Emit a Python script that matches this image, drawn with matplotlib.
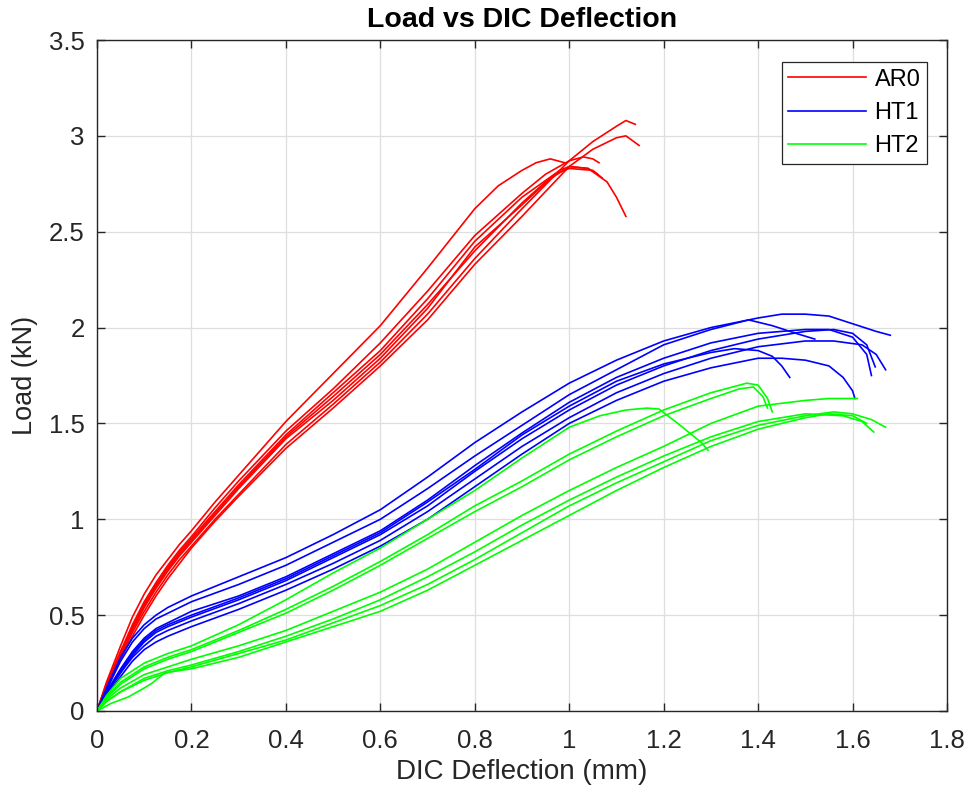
import matplotlib
matplotlib.use("Agg")
import matplotlib.pyplot as plt
from matplotlib.ticker import FuncFormatter

plt.rcParams['font.family'] = ['Liberation Sans', 'DejaVu Sans']

# ---- AR0 specimens: deflection (mm), load (kN) ----
ar0_x1 = [0, 0.02, 0.05, 0.075, 0.1, 0.125, 0.15, 0.175, 0.2, 0.25, 0.3, 0.4, 0.5, 0.6, 0.7, 0.8, 0.85, 0.9, 0.93, 0.96, 0.99]
ar0_y1 = [0, 0.15, 0.34, 0.49, 0.61, 0.71, 0.79, 0.87, 0.94, 1.09, 1.23, 1.51, 1.76, 2.01, 2.31, 2.62, 2.74, 2.82, 2.86, 2.88, 2.86]
ar0_x2 = [0, 0.02, 0.05, 0.075, 0.1, 0.125, 0.15, 0.175, 0.2, 0.25, 0.3, 0.4, 0.5, 0.6, 0.7, 0.8, 0.9, 1.0, 1.05, 1.1, 1.12, 1.14]
ar0_y2 = [0, 0.12, 0.28, 0.41, 0.52, 0.62, 0.71, 0.79, 0.86, 1.00, 1.13, 1.39, 1.60, 1.82, 2.07, 2.36, 2.62, 2.87, 2.97, 3.05, 3.08, 3.06]
ar0_x3 = [0, 0.02, 0.05, 0.075, 0.1, 0.125, 0.15, 0.175, 0.2, 0.25, 0.3, 0.4, 0.5, 0.6, 0.7, 0.8, 0.9, 1.0, 1.05, 1.1, 1.12, 1.148]
ar0_y3 = [0, 0.11, 0.27, 0.39, 0.50, 0.60, 0.69, 0.77, 0.85, 0.99, 1.12, 1.37, 1.58, 1.80, 2.04, 2.33, 2.58, 2.84, 2.93, 2.99, 3.00, 2.95]
ar0_x4 = [0, 0.02, 0.05, 0.075, 0.1, 0.125, 0.15, 0.175, 0.2, 0.25, 0.3, 0.4, 0.5, 0.6, 0.7, 0.8, 0.9, 0.95, 1.0, 1.03, 1.05, 1.063]
ar0_y4 = [0, 0.14, 0.31, 0.45, 0.57, 0.67, 0.76, 0.84, 0.91, 1.06, 1.20, 1.46, 1.68, 1.92, 2.19, 2.48, 2.70, 2.80, 2.87, 2.89, 2.88, 2.86]
ar0_x5 = [0, 0.02, 0.05, 0.075, 0.1, 0.125, 0.15, 0.175, 0.2, 0.25, 0.3, 0.4, 0.5, 0.6, 0.7, 0.8, 0.9, 0.95, 1.0, 1.04, 1.08, 1.1, 1.12]
ar0_y5 = [0, 0.13, 0.30, 0.43, 0.55, 0.65, 0.74, 0.82, 0.89, 1.03, 1.17, 1.43, 1.64, 1.86, 2.12, 2.40, 2.65, 2.76, 2.84, 2.83, 2.76, 2.68, 2.58]
ar0_x6 = [0, 0.02, 0.05, 0.075, 0.1, 0.125, 0.15, 0.175, 0.2, 0.25, 0.3, 0.4, 0.5, 0.6, 0.7, 0.8, 0.9, 0.97, 1.0, 1.05, 1.07]
ar0_y6 = [0, 0.13, 0.29, 0.42, 0.54, 0.64, 0.73, 0.81, 0.88, 1.02, 1.16, 1.42, 1.62, 1.84, 2.10, 2.42, 2.64, 2.80, 2.83, 2.82, 2.78]
ar0_x7 = [0, 0.02, 0.05, 0.075, 0.1, 0.125, 0.15, 0.175, 0.2, 0.25, 0.3, 0.4, 0.5, 0.6, 0.7, 0.8, 0.9, 0.98, 1.0, 1.04, 1.06]
ar0_y7 = [0, 0.14, 0.31, 0.44, 0.56, 0.66, 0.75, 0.83, 0.90, 1.04, 1.18, 1.44, 1.66, 1.88, 2.15, 2.45, 2.68, 2.82, 2.84, 2.83, 2.80]

# ---- HT1 specimens ----
ht1_x1 = [0, 0.02, 0.05, 0.075, 0.1, 0.125, 0.15, 0.2, 0.3, 0.4, 0.5, 0.6, 0.7, 0.8, 0.9, 1.0, 1.1, 1.2, 1.3, 1.4, 1.45, 1.5, 1.55, 1.6, 1.65, 1.68]
ht1_y1 = [0, 0.12, 0.28, 0.38, 0.45, 0.50, 0.54, 0.60, 0.70, 0.80, 0.92, 1.05, 1.22, 1.40, 1.56, 1.71, 1.83, 1.93, 2.00, 2.05, 2.07, 2.07, 2.06, 2.02, 1.98, 1.96]
ht1_x2 = [0, 0.02, 0.05, 0.075, 0.1, 0.125, 0.15, 0.2, 0.3, 0.4, 0.5, 0.6, 0.7, 0.8, 0.9, 1.0, 1.1, 1.2, 1.3, 1.38, 1.43, 1.48, 1.52]
ht1_y2 = [0, 0.11, 0.26, 0.36, 0.43, 0.48, 0.51, 0.57, 0.66, 0.76, 0.88, 1.00, 1.16, 1.33, 1.49, 1.65, 1.78, 1.91, 1.99, 2.04, 2.01, 1.97, 1.94]
ht1_x3 = [0, 0.02, 0.05, 0.075, 0.1, 0.125, 0.15, 0.2, 0.3, 0.4, 0.5, 0.6, 0.7, 0.8, 0.9, 1.0, 1.1, 1.2, 1.3, 1.4, 1.5, 1.55, 1.6, 1.63, 1.64]
ht1_y3 = [0, 0.10, 0.22, 0.31, 0.38, 0.43, 0.46, 0.52, 0.60, 0.70, 0.82, 0.94, 1.10, 1.28, 1.45, 1.61, 1.74, 1.84, 1.92, 1.97, 1.99, 1.99, 1.95, 1.86, 1.75]
ht1_x4 = [0, 0.02, 0.05, 0.075, 0.1, 0.125, 0.15, 0.2, 0.3, 0.4, 0.5, 0.6, 0.7, 0.8, 0.9, 1.0, 1.1, 1.2, 1.3, 1.4, 1.5, 1.56, 1.6, 1.63, 1.648]
ht1_y4 = [0, 0.09, 0.20, 0.29, 0.36, 0.41, 0.44, 0.49, 0.58, 0.68, 0.80, 0.92, 1.07, 1.25, 1.42, 1.57, 1.70, 1.80, 1.88, 1.94, 1.98, 1.99, 1.97, 1.91, 1.795]
ht1_x5 = [0, 0.02, 0.05, 0.075, 0.1, 0.125, 0.15, 0.2, 0.3, 0.4, 0.5, 0.6, 0.7, 0.8, 0.9, 1.0, 1.1, 1.2, 1.3, 1.4, 1.5, 1.56, 1.62, 1.65, 1.67]
ht1_y5 = [0, 0.09, 0.20, 0.28, 0.34, 0.39, 0.42, 0.47, 0.56, 0.66, 0.77, 0.89, 1.04, 1.21, 1.38, 1.53, 1.66, 1.76, 1.84, 1.90, 1.93, 1.93, 1.91, 1.86, 1.78]
ht1_x6 = [0, 0.02, 0.05, 0.075, 0.1, 0.125, 0.15, 0.2, 0.3, 0.4, 0.5, 0.6, 0.7, 0.8, 0.9, 1.0, 1.1, 1.2, 1.3, 1.35, 1.4, 1.43, 1.45, 1.467]
ht1_y6 = [0, 0.10, 0.21, 0.30, 0.37, 0.42, 0.45, 0.50, 0.59, 0.69, 0.81, 0.93, 1.09, 1.26, 1.44, 1.59, 1.72, 1.81, 1.87, 1.89, 1.88, 1.85, 1.80, 1.74]
ht1_x7 = [0, 0.02, 0.05, 0.075, 0.1, 0.125, 0.15, 0.2, 0.3, 0.4, 0.5, 0.6, 0.7, 0.8, 0.9, 1.0, 1.1, 1.2, 1.3, 1.4, 1.45, 1.5, 1.55, 1.58, 1.6, 1.605]
ht1_y7 = [0, 0.08, 0.18, 0.26, 0.32, 0.36, 0.39, 0.44, 0.53, 0.63, 0.74, 0.86, 1.00, 1.17, 1.34, 1.50, 1.62, 1.72, 1.79, 1.84, 1.84, 1.83, 1.80, 1.74, 1.67, 1.63]

# ---- HT2 specimens ----
ht2_x1 = [0, 0.02, 0.05, 0.1, 0.15, 0.2, 0.3, 0.4, 0.5, 0.6, 0.7, 0.8, 0.9, 1.0, 1.1, 1.2, 1.3, 1.376, 1.4, 1.42, 1.43]
ht2_y1 = [0, 0.07, 0.15, 0.23, 0.28, 0.32, 0.42, 0.53, 0.65, 0.78, 0.92, 1.07, 1.20, 1.34, 1.46, 1.57, 1.66, 1.71, 1.70, 1.63, 1.56]
ht2_x2 = [0, 0.02, 0.05, 0.1, 0.15, 0.2, 0.3, 0.4, 0.5, 0.6, 0.7, 0.8, 0.9, 1.0, 1.1, 1.2, 1.3, 1.36, 1.39, 1.41, 1.42]
ht2_y2 = [0, 0.07, 0.14, 0.22, 0.27, 0.31, 0.41, 0.51, 0.63, 0.76, 0.90, 1.04, 1.17, 1.31, 1.43, 1.54, 1.63, 1.68, 1.69, 1.64, 1.58]
ht2_x3 = [0, 0.02, 0.05, 0.1, 0.15, 0.2, 0.3, 0.4, 0.5, 0.6, 0.7, 0.8, 0.9, 1.0, 1.065, 1.12, 1.165, 1.19, 1.23, 1.28, 1.294]
ht2_y3 = [0, 0.08, 0.17, 0.25, 0.30, 0.34, 0.45, 0.58, 0.72, 0.85, 1.00, 1.15, 1.32, 1.48, 1.54, 1.57, 1.58, 1.575, 1.50, 1.40, 1.36]
ht2_x4 = [0, 0.02, 0.05, 0.1, 0.15, 0.2, 0.3, 0.4, 0.5, 0.6, 0.7, 0.8, 0.9, 1.0, 1.1, 1.2, 1.3, 1.4, 1.5, 1.55, 1.61]
ht2_y4 = [0, 0.06, 0.12, 0.19, 0.23, 0.27, 0.34, 0.42, 0.52, 0.62, 0.74, 0.88, 1.02, 1.15, 1.27, 1.38, 1.50, 1.59, 1.62, 1.63, 1.63]
ht2_x5 = [0, 0.02, 0.05, 0.1, 0.15, 0.2, 0.3, 0.4, 0.5, 0.6, 0.7, 0.8, 0.9, 1.0, 1.1, 1.2, 1.3, 1.4, 1.5, 1.58, 1.62, 1.645]
ht2_y5 = [0, 0.05, 0.10, 0.17, 0.21, 0.24, 0.31, 0.39, 0.48, 0.58, 0.70, 0.83, 0.97, 1.10, 1.22, 1.33, 1.43, 1.51, 1.55, 1.54, 1.51, 1.455]
ht2_x6 = [0, 0.02, 0.05, 0.1, 0.15, 0.2, 0.3, 0.4, 0.5, 0.6, 0.7, 0.8, 0.9, 1.0, 1.1, 1.2, 1.3, 1.4, 1.5, 1.56, 1.6, 1.64, 1.67]
ht2_y6 = [0, 0.05, 0.10, 0.16, 0.20, 0.23, 0.30, 0.37, 0.46, 0.55, 0.66, 0.79, 0.93, 1.07, 1.19, 1.30, 1.41, 1.49, 1.54, 1.56, 1.55, 1.52, 1.48]
ht2_x7 = [0, 0.03, 0.066, 0.1, 0.117, 0.144, 0.2, 0.3, 0.4, 0.5, 0.6, 0.7, 0.8, 0.9, 1.0, 1.1, 1.2, 1.3, 1.4, 1.5, 1.55, 1.6, 1.63]
ht2_y7 = [0, 0.04, 0.073, 0.12, 0.146, 0.20, 0.22, 0.28, 0.36, 0.44, 0.52, 0.63, 0.76, 0.89, 1.02, 1.15, 1.27, 1.38, 1.47, 1.53, 1.55, 1.54, 1.50]

groups = [
    ("AR0", "#ff0000", [(ar0_x1, ar0_y1), (ar0_x2, ar0_y2), (ar0_x3, ar0_y3), (ar0_x4, ar0_y4),
                        (ar0_x5, ar0_y5), (ar0_x6, ar0_y6), (ar0_x7, ar0_y7)]),
    ("HT1", "#0000ff", [(ht1_x1, ht1_y1), (ht1_x2, ht1_y2), (ht1_x3, ht1_y3), (ht1_x4, ht1_y4),
                        (ht1_x5, ht1_y5), (ht1_x6, ht1_y6), (ht1_x7, ht1_y7)]),
    ("HT2", "#00ff00", [(ht2_x1, ht2_y1), (ht2_x2, ht2_y2), (ht2_x3, ht2_y3), (ht2_x4, ht2_y4),
                        (ht2_x5, ht2_y5), (ht2_x6, ht2_y6), (ht2_x7, ht2_y7)]),
]

x_ticks = [0, 0.2, 0.4, 0.6, 0.8, 1.0, 1.2, 1.4, 1.6, 1.8]
y_ticks = [0, 0.5, 1.0, 1.5, 2.0, 2.5, 3.0, 3.5]

fig = plt.figure(figsize=(9.71, 7.94), dpi=100)
ax = fig.add_axes([97 / 971, 1 - 711 / 794, 850 / 971, 671 / 794])

for name, color, curves in groups:
    for i, (xs, ys) in enumerate(curves):
        ax.plot(xs, ys, color=color, lw=1.2, label=name if i == 0 else None)

ax.set_xlim(0, 1.8)
ax.set_ylim(0, 3.5)
ax.set_xticks(x_ticks)
ax.set_yticks(y_ticks)
fmt = FuncFormatter(lambda v, p: f"{v:g}")
ax.xaxis.set_major_formatter(fmt)
ax.yaxis.set_major_formatter(fmt)

axis_col = "#262626"
ax.grid(True, color="#dedede", lw=0.9)
ax.set_axisbelow(True)
for s in ax.spines.values():
    s.set_color(axis_col)
    s.set_linewidth(1.0)
ax.tick_params(direction="in", length=6, width=1.0, colors=axis_col,
               top=True, right=True, labelsize=18.5)
ax.tick_params(axis="x", pad=13)
ax.tick_params(axis="y", pad=9)

ax.set_xlabel("DIC Deflection (mm)", fontsize=20, color=axis_col, labelpad=4)
ax.set_ylabel("Load (kN)", fontsize=19.5, color=axis_col, labelpad=8)
ax.set_title("Load vs DIC Deflection", fontsize=20.5, fontweight="bold", color="black", pad=9)

leg = ax.legend(loc="upper right", bbox_to_anchor=(0.9765, 0.967), borderaxespad=0,
                fontsize=17, handlelength=3.3, labelspacing=0.48, handletextpad=0.35,
                borderpad=0.28, fancybox=False, framealpha=1, edgecolor=axis_col)
leg.get_frame().set_linewidth(0.9)

fig.savefig("out.png", dpi=100)
